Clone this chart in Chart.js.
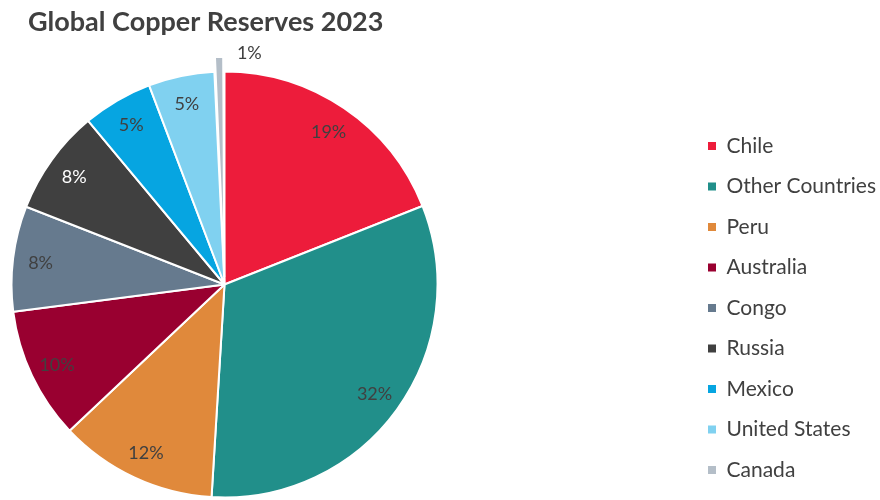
<!DOCTYPE html>
<html><head><meta charset="utf-8">
<script src="https://cdn.jsdelivr.net/npm/chart.js@4.4.0/dist/chart.umd.min.js"></script>
<style>html,body{margin:0;padding:0;background:#fff;}#wrap{width:880px;height:500px;}</style>
</head><body><div id="wrap"><canvas id="c" width="880" height="500"></canvas></div>
<script>
// ---- data ----
const categories = ['Chile', 'Other Countries', 'Peru', 'Australia', 'Congo', 'Russia', 'Mexico', 'United States', 'Canada'];
const reservesMt = [190, 320, 120, 100, 80, 80, 53, 50, 7.6];
const sliceColors = ['#ED1C3B', '#218F8A', '#E0893B', '#990030', '#667A8E', '#404040', '#06A5E1', '#80D1F0', '#B4BEC8'];
const labelColors = ['#404040', '#404040', '#404040', '#404040', '#404040', '#FFFFFF', '#404040', '#404040', '#404040'];
const sliceOffsets = [0, 0, 0, 0, 0, 0, 0, 0, 30];
const titleText = 'Global Copper Reserves 2023';

const FONT = 'Lato';
const TEXT = '#404040';
const LEGEND_FS = 21;
const TITLE_FS = 27;
const LABEL_FS = 18;

const placePlugin = {
  id: 'place',
  afterLayout(chart) {
    const cx = 224.5, cy = 284.5, r = 213;
    chart.chartArea = {left: cx - r, top: cy - r, right: cx + r, bottom: cy + r, width: 2 * r, height: 2 * r};
    const lg = chart.legend;
    const pad = lg.options.labels.padding;
    lg.left = 708 - pad; lg.right = 880; lg.width = lg.right - lg.left;
    lg.top = 146 - LEGEND_FS / 2 - pad; lg.bottom = 560; lg.height = lg.bottom - lg.top;
    const t = chart.titleBlock;
    t.left = 28; t.right = 880; t.width = t.right - t.left;
    t.top = 22.5 - 0.6 * TITLE_FS; t.bottom = t.top + 1.2 * TITLE_FS; t.height = t.bottom - t.top;
  }
};

const labelPlugin = {
  id: 'pctLabels',
  afterDatasetsDraw(chart) {
    const ctx = chart.ctx;
    const meta = chart.getDatasetMeta(0);
    const total = reservesMt.reduce((a, b) => a + b, 0);
    ctx.save();
    ctx.font = LABEL_FS + 'px ' + FONT;
    ctx.textBaseline = 'middle';
    meta.data.forEach((arc, i) => {
      const {x, y, startAngle, endAngle, outerRadius} = arc.getProps(['x', 'y', 'startAngle', 'endAngle', 'outerRadius'], true);
      const mid = (startAngle + endAngle) / 2;
      const pct = Math.round(reservesMt[i] / total * 100) + '%';
      ctx.fillStyle = labelColors[i];
      if (reservesMt[i] / total < 0.02) {
        const d = outerRadius + 22;
        ctx.textAlign = 'left';
        ctx.fillText(pct, x + Math.cos(mid) * d + 18, y + Math.sin(mid) * d + 4);
      } else {
        const d = outerRadius * 0.87;
        ctx.textAlign = 'center';
        ctx.fillText(pct, x + Math.cos(mid) * d, y + Math.sin(mid) * d + 1);
      }
    });
    ctx.restore();
  }
};

new Chart(document.getElementById('c'), {
  type: 'pie',
  data: {
    labels: categories,
    datasets: [{
      data: reservesMt,
      backgroundColor: sliceColors,
      borderColor: '#ffffff',
      borderWidth: 2,
      offset: sliceOffsets,
      radius: 213,
      clip: false
    }]
  },
  options: {
    responsive: false,
    animation: false,
    layout: {padding: 0},
    plugins: {
      tooltip: {enabled: false},
      title: {
        display: true,
        text: titleText,
        align: 'start',
        color: TEXT,
        font: {family: FONT, size: TITLE_FS, weight: 'bold'},
        padding: {top: 0, bottom: 0}
      },
      legend: {
        position: 'right',
        align: 'start',
        labels: {
          color: TEXT,
          font: {family: FONT, size: LEGEND_FS},
          boxWidth: 8,
          boxHeight: 8,
          padding: 19.5,
          generateLabels(chart) {
            const items = Chart.overrides.pie.plugins.legend.labels.generateLabels(chart);
            return items.map(it => Object.assign(it, {lineWidth: 0, strokeStyle: 'rgba(0,0,0,0)'}));
          }
        }
      }
    }
  },
  plugins: [placePlugin, labelPlugin]
});
</script>
</body></html>
